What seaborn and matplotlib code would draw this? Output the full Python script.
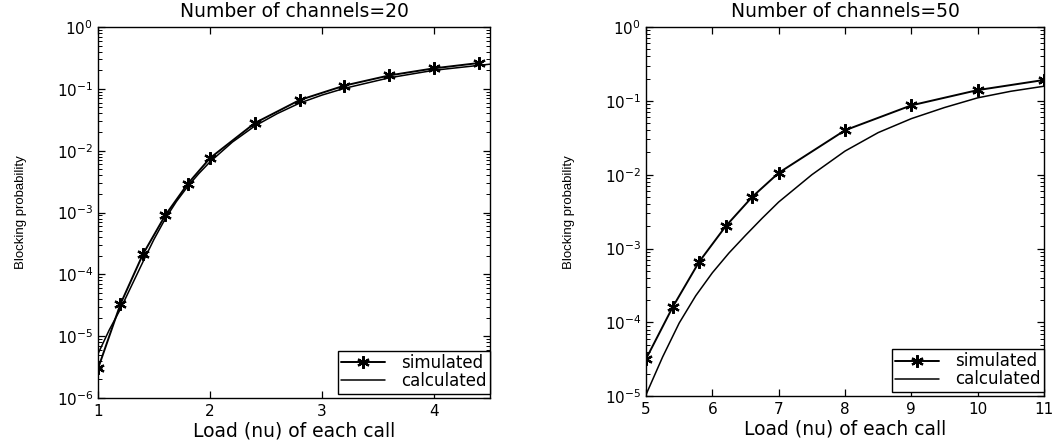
import numpy as np
import pandas as pd
import matplotlib
matplotlib.use("Agg")
import matplotlib.pyplot as plt
import seaborn as sns
from matplotlib.ticker import NullFormatter, FixedLocator, LogFormatterSciNotation

# ---- data ----
titles = ["Number of channels=20", "Number of channels=50"]

sim20_x = [1.0, 1.2, 1.4, 1.6, 1.8, 2.0, 2.4, 2.8, 3.2, 3.6, 4.0, 4.4]
sim20_y = [3.0e-6, 3.3e-5, 2.1e-4, 9.0e-4, 2.9e-3, 7.6e-3, 0.028, 0.066, 0.113, 0.165, 0.215, 0.262]
calc20_x = [1.0, 1.1, 1.2, 1.3, 1.4, 1.5, 1.6, 1.7, 1.8, 1.9, 2.0, 2.2, 2.4, 2.6, 2.8,
            3.0, 3.2, 3.6, 4.0, 4.5]
calc20_y = [5.2e-6, 1.26e-5, 2.75e-5, 6.6e-5, 1.58e-4, 3.7e-4, 7.9e-4, 1.51e-3, 2.63e-3,
            4.27e-3, 6.6e-3, 0.0138, 0.0251, 0.0398, 0.0589, 0.0794, 0.102, 0.151, 0.200, 0.251]

sim50_x = [5.0, 5.4, 5.8, 6.2, 6.6, 7.0, 8.0, 9.0, 10.0, 11.0]
sim50_y = [3.2e-5, 1.6e-4, 6.6e-4, 2.0e-3, 5.0e-3, 0.0106, 0.040, 0.087, 0.140, 0.192]
calc50_x = [5.0, 5.25, 5.5, 5.75, 6.0, 6.25, 6.5, 6.75, 7.0, 7.5, 8.0, 8.5, 9.0, 9.5,
            10.0, 10.5, 11.0]
calc50_y = [1.05e-5, 3.4e-5, 9.8e-5, 2.3e-4, 4.7e-4, 8.7e-4, 1.51e-3, 2.57e-3, 4.27e-3,
            0.0100, 0.0209, 0.0372, 0.0575, 0.0813, 0.110, 0.135, 0.158]

xlim20 = (1, 4.5)
yexp20 = (-6, 0)
xticks20 = [1, 2, 3, 4]
xlim50 = (5, 11)
yexp50 = (-5, 0)
xticks50 = [5, 6, 7, 8, 9, 10, 11]

xlabel = "Load (nu) of each call"
ylabel = "Blocking probability"
legend_labels = ["simulated", "calculated"]

sns.set_style("ticks")
plt.rcParams['font.family'] = ['DejaVu Sans']
plt.rcParams['text.color'] = 'black'
plt.rcParams['axes.labelcolor'] = 'black'
plt.rcParams['xtick.color'] = 'black'
plt.rcParams['ytick.color'] = 'black'

fig = plt.figure(figsize=(10.52, 4.4), dpi=100)
ax1 = fig.add_axes([0.0932, 0.0955, 0.3726, 0.843])
ax2 = fig.add_axes([0.6141, 0.0995, 0.3783, 0.8390])

panels = [
    (ax1, sim20_x, sim20_y, calc20_x, calc20_y, titles[0], xlim20, yexp20, xticks20),
    (ax2, sim50_x, sim50_y, calc50_x, calc50_y, titles[1], xlim50, yexp50, xticks50),
]

for ax, sx, sy, cx, cy, title, xl, ye, xt in panels:
    sim_df = pd.DataFrame({"x": sx, "y": sy})
    calc_df = pd.DataFrame({"x": cx, "y": cy})
    sns.lineplot(data=sim_df, x="x", y="y", ax=ax, color="black", linewidth=1.4,
                 marker=(6, 2, 0), markersize=9, markeredgecolor="black", markeredgewidth=1.6,
                 label=legend_labels[0], sort=False)
    sns.lineplot(data=calc_df, x="x", y="y", ax=ax, color="black", linewidth=1.1,
                 label=legend_labels[1], sort=False)
    ax.set_yscale("log")
    ax.set_xlim(*xl)
    ax.set_ylim(10.0 ** ye[0], 10.0 ** ye[1])
    ax.xaxis.set_major_locator(FixedLocator(xt))
    majors = [10.0 ** e for e in range(ye[0], ye[1] + 1)]
    minors = [m * 10.0 ** e for e in range(ye[0], ye[1]) for m in range(2, 10)]
    ax.yaxis.set_major_locator(FixedLocator(majors))
    ax.yaxis.set_major_formatter(LogFormatterSciNotation())
    ax.yaxis.set_minor_locator(FixedLocator(minors))
    ax.yaxis.set_minor_formatter(NullFormatter())
    ax.tick_params(axis="both", which="both", direction="in", top=True, right=True,
                   colors="black", labelsize=11)
    ax.tick_params(axis="both", which="major", length=5, width=0.9)
    ax.tick_params(axis="both", which="minor", length=3, width=0.7)
    ax.tick_params(axis="x", pad=4)
    for s in ax.spines.values():
        s.set_visible(True)
        s.set_color("black")
        s.set_linewidth(1.0)
    ax.set_title(title, fontsize=13.5, pad=7, color="black")
    ax.set_xlabel(xlabel, fontsize=13.5, labelpad=2)
    ax.set_ylabel(ylabel, fontsize=9.5, labelpad=21,
                  family=["Liberation Sans Narrow", "Liberation Sans", "DejaVu Sans"])
    leg = ax.legend(loc="lower right", bbox_to_anchor=(1.0, 0.012), frameon=True,
                    fancybox=False, fontsize=12, borderaxespad=0.0, handlelength=2.6,
                    borderpad=0.2, labelspacing=0.0, handletextpad=1.0)
    leg.get_frame().set_edgecolor("black")
    leg.get_frame().set_linewidth(1.0)
    leg.get_frame().set_alpha(1)

fig.savefig("out.png", dpi=100)
